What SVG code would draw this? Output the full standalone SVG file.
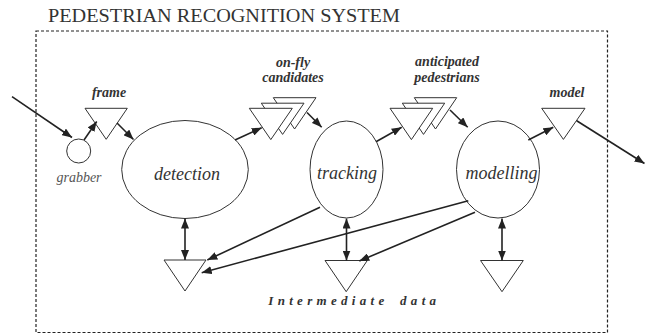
<svg xmlns="http://www.w3.org/2000/svg" width="648" height="334" viewBox="0 0 648 334">
  <defs>
    <marker id="ah" viewBox="0 0 10 8" refX="10" refY="4" markerWidth="10" markerHeight="8" markerUnits="userSpaceOnUse" orient="auto-start-reverse">
      <path d="M0,0 L10,4 L0,8 Z" fill="#222"/>
    </marker>
    <style>
      .shape { fill: #fff; stroke: #333; stroke-width: 1; }
      .store { fill: #fff; stroke: #333; stroke-width: 1; stroke-linejoin: miter; }
      .conn { fill: none; stroke: #222; stroke-width: 1.6; marker-end: url(#ah); }
      .dbl { marker-start: url(#ah); }
      .lbl { font-family: "Liberation Serif", "Times New Roman", serif; font-style: italic; font-weight: bold; font-size: 14px; fill: #333; text-anchor: middle; }
      .proc { font-family: "Liberation Serif", "Times New Roman", serif; font-style: italic; font-size: 18px; fill: #333; text-anchor: middle; }
    </style>
  </defs>

  <rect width="648" height="334" fill="#fff"/>

  <!-- system boundary -->
  <g id="system">
    <text x="48" y="22" font-family="Liberation Serif, Times New Roman, serif" font-size="19" fill="#333" textLength="352" lengthAdjust="spacingAndGlyphs">PEDESTRIAN RECOGNITION SYSTEM</text>
    <rect x="36" y="31" width="571.5" height="301.5" fill="none" stroke="#222" stroke-width="1.2" stroke-dasharray="3,2"/>
  </g>

  <!-- processes -->
  <g id="grabber">
    <circle class="shape" cx="78.7" cy="151" r="12"/>
    <text x="79" y="181.5" font-family="Liberation Serif, Times New Roman, serif" font-style="italic" font-size="14" fill="#555" text-anchor="middle">grabber</text>
  </g>
  <g id="detection">
    <ellipse class="shape" cx="185" cy="169.5" rx="63.3" ry="49"/>
    <text class="proc" x="187" y="179.5">detection</text>
  </g>
  <g id="tracking">
    <ellipse class="shape" cx="346.5" cy="169.5" rx="36.5" ry="48.5"/>
    <text class="proc" x="347" y="178.5">tracking</text>
  </g>
  <g id="modelling">
    <ellipse class="shape" cx="498" cy="169.5" rx="41.5" ry="48.5"/>
    <text class="proc" x="501.5" y="179">modelling</text>
  </g>

  <!-- data stores -->
  <g id="frame">
    <polygon class="store" points="85,108.3 127.3,108.3 106.2,139.3"/>
    <text class="lbl" x="109" y="97">frame</text>
  </g>
  <g id="candidates">
    <polygon class="store" points="273.3,97.7 316,97.7 294.6,129"/>
    <polygon class="store" points="261.3,103.2 304,103.2 282.6,134.4"/>
    <polygon class="store" points="249.3,108.3 292.3,108.3 270.8,139.6"/>
    <text class="lbl" x="293" y="66.5">on-fly</text>
    <text class="lbl" x="293" y="81.5">candidates</text>
  </g>
  <g id="pedestrians">
    <polygon class="store" points="414.3,97.7 456.7,97.7 435.5,129"/>
    <polygon class="store" points="402.3,103.2 444.7,103.2 423.5,134.4"/>
    <polygon class="store" points="390,108.3 432.7,108.3 411.4,139.6"/>
    <text class="lbl" x="447" y="66">anticipated</text>
    <text class="lbl" x="447" y="81.5">pedestrians</text>
  </g>
  <g id="model">
    <polygon class="store" points="541.7,108.3 585,108.3 563.4,139.4"/>
    <text class="lbl" x="567" y="96.5">model</text>
  </g>
  <g id="intermediate">
    <polygon class="store" points="164,260 206,260 185,291"/>
    <polygon class="store" points="325,260.5 367.3,260.5 346.2,291.7"/>
    <polygon class="store" points="480.5,260.5 523.3,260.5 502,291.7"/>
    <text x="268.3" y="305" font-family="Liberation Serif, Times New Roman, serif" font-style="italic" font-weight="bold" font-size="13" fill="#333" letter-spacing="4.3" word-spacing="4">Intermediate data</text>
  </g>

  <!-- connectors -->
  <g id="connectors">
    <line class="conn" x1="12" y1="96.7" x2="72" y2="137.5"/>
    <line class="conn" x1="84" y1="140" x2="96.7" y2="121.5"/>
    <line class="conn" x1="117" y1="123" x2="133.5" y2="139.5"/>
    <line class="conn" x1="235" y1="140" x2="261.7" y2="127.7"/>
    <line class="conn" x1="307" y1="112.5" x2="321.7" y2="127.3"/>
    <line class="conn" x1="376" y1="141.7" x2="401.7" y2="127.3"/>
    <line class="conn" x1="450" y1="110" x2="467.7" y2="127.3"/>
    <line class="conn" x1="528.3" y1="140" x2="553.3" y2="127.3"/>
    <line class="conn" x1="576.7" y1="120.7" x2="644.5" y2="163.5"/>
    <line class="conn" x1="320" y1="207.3" x2="207.3" y2="260"/>
    <line class="conn" x1="468.3" y1="200.7" x2="201.7" y2="272.7"/>
    <line class="conn" x1="475" y1="212.3" x2="359.3" y2="261"/>
    <line class="conn dbl" x1="185" y1="218.5" x2="185" y2="260"/>
    <line class="conn dbl" x1="346.5" y1="218.5" x2="346.5" y2="260.5"/>
    <line class="conn dbl" x1="502" y1="218.5" x2="502" y2="260.5"/>
  </g>
</svg>
